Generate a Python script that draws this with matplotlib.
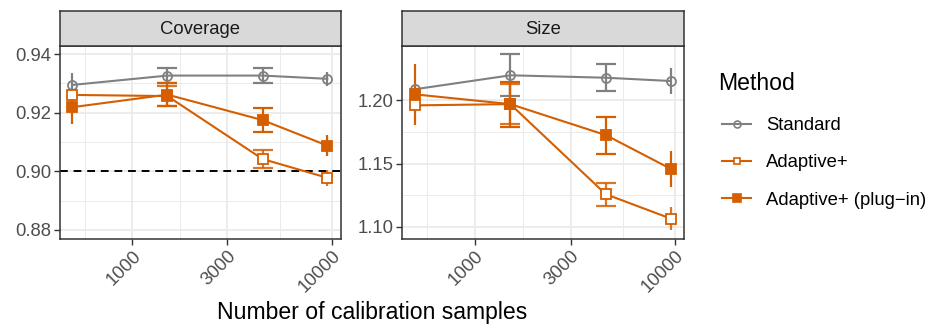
import matplotlib.pyplot as plt
import numpy as np

plt.rcParams['font.family'] = ['Liberation Sans', 'DejaVu Sans']

# ---------- данные ----------
n_cal = [500, 1500, 4500, 9500]
methods = ['Standard', 'Adaptive+', 'Adaptive+ (plug\u2212in)']

cov_standard = [0.9295, 0.9327, 0.9327, 0.9316]
cov_standard_err = [0.004, 0.0027, 0.0027, 0.0024]
cov_adaptive = [0.9261, 0.9257, 0.9042, 0.8978]
cov_adaptive_err = [0.002, 0.0033, 0.003, 0.0027]
cov_plugin = [0.9219, 0.9262, 0.9175, 0.9088]
cov_plugin_err = [0.0056, 0.0038, 0.004, 0.0036]

size_standard = [1.2085, 1.2195, 1.2176, 1.2150]
size_standard_err = [0.003, 0.0165, 0.0105, 0.0105]
size_adaptive = [1.1958, 1.1968, 1.1258, 1.1066]
size_adaptive_err = [0.004, 0.016, 0.009, 0.009]
size_plugin = [1.2045, 1.1968, 1.1724, 1.1458]
size_plugin_err = [0.024, 0.0177, 0.0146, 0.014]

# ---------- стиль ----------
W, H = 932, 324
GRAY = '#808080'
ORANGE = '#D55E00'
SMALL = 13.3   # подписи делений, полосы, легенда
BIG = 16.6     # заголовки осей и легенды
styles = [
    dict(color=GRAY, marker='o', mfc='none', ms=6.5, ealpha=1.0),
    dict(color=ORANGE, marker='s', mfc='white', ms=6.5, ealpha=0.85),
    dict(color=ORANGE, marker='s', mfc=ORANGE, ms=7, ealpha=1.0),
]
caps = [0, 7, 7, 0]


def draw_panel(ax, series, errors, ylim, yticks, title):
    for (vals, errs), st in zip(zip(series, errors), styles):
        ax.plot(n_cal, vals, color=st['color'], lw=1.5, zorder=3)
        for x, v, e, c in zip(n_cal, vals, errs, caps):
            ax.errorbar(x, v, yerr=e, color=st['color'], lw=1.6, capsize=c,
                        capthick=1.6, alpha=st['ealpha'], zorder=3)
        ax.plot(n_cal, vals, ls='none', marker=st['marker'], ms=st['ms'],
                mfc=st['mfc'], mec=st['color'], mew=1.3, zorder=4)
    ax.set_xscale('log')
    ax.set_xlim(10 ** 2.635, 10 ** 4.044)
    ax.set_ylim(*ylim)
    ax.set_xticks([1000, 3000, 10000])
    ax.set_xticklabels(['1000', '3000', '10000'], rotation=45, ha='right',
                       va='top', rotation_mode='anchor')
    minor = 10 ** np.array([2.7614, 3.2386, 3.7386])
    ax.set_xticks(minor, minor=True)
    ax.set_yticks(yticks)
    ax.set_yticklabels([f'{t:.2f}' for t in yticks])
    ymin = [(a + b) / 2 for a, b in zip(yticks[:-1], yticks[1:])]
    ax.set_yticks(ymin, minor=True)
    ax.tick_params(which='minor', length=0)
    ax.tick_params(which='major', length=4, width=1, color='#333333',
                   labelcolor='#4D4D4D', labelsize=SMALL, pad=2)
    ax.grid(which='major', color='#EBEBEB', lw=1.3, zorder=0)
    ax.grid(which='minor', color='#EBEBEB', lw=0.7, zorder=0)
    ax.set_axisbelow(True)
    for sp in ax.spines.values():
        sp.set_color('#333333')
        sp.set_linewidth(1.1)
    # полоса с заголовком панели
    pos = ax.get_position()
    strip = fig.add_axes([pos.x0, pos.y1, pos.width, 35 / H])
    strip.set_facecolor('#D9D9D9')
    strip.set_xticks([])
    strip.set_yticks([])
    for sp in strip.spines.values():
        sp.set_color('#333333')
        sp.set_linewidth(1.1)
    strip.text(0.5, 0.48, title, ha='center', va='center', fontsize=SMALL,
               color='#1A1A1A', transform=strip.transAxes)


fig = plt.figure(figsize=(W / 100, H / 100), dpi=100)
ax1 = fig.add_axes([59.5 / W, (H - 239) / H, 281 / W, 193 / H])
ax2 = fig.add_axes([402 / W, (H - 239) / H, 282 / W, 193 / H])

draw_panel(ax1, [cov_standard, cov_adaptive, cov_plugin],
           [cov_standard_err, cov_adaptive_err, cov_plugin_err],
           (0.8769, 0.9428), [0.88, 0.90, 0.92, 0.94], 'Coverage')
ax1.axhline(0.90, color='black', ls=(0, (4, 3)), lw=1.4, zorder=2)

draw_panel(ax2, [size_standard, size_adaptive, size_plugin],
           [size_standard_err, size_adaptive_err, size_plugin_err],
           (1.0905, 1.2426), [1.10, 1.15, 1.20], 'Size')

fig.text(372 / W, (H - 312) / H, 'Number of calibration samples',
         ha='center', va='center', fontsize=BIG, color='black')

# легенда: заголовок отдельно, чтобы ключи были с отступом
fig.text(718 / W, (H - 83) / H, 'Method', ha='left', va='center',
         fontsize=BIG, color='black')
handles = []
for st in styles:
    h = plt.Line2D([], [], color=st['color'], lw=1.5, marker=st['marker'],
                   ms=st['ms'] - 1.5, mfc=st['mfc'], mec=st['color'], mew=1.2)
    handles.append(h)
leg = fig.legend(handles, methods, loc='upper left',
                 bbox_to_anchor=(722 / W, (H - 117) / H), frameon=False,
                 fontsize=SMALL, borderpad=0, borderaxespad=0,
                 handlelength=1.57, handletextpad=0.8, labelspacing=1.1)

fig.savefig('out.png', dpi=100)
